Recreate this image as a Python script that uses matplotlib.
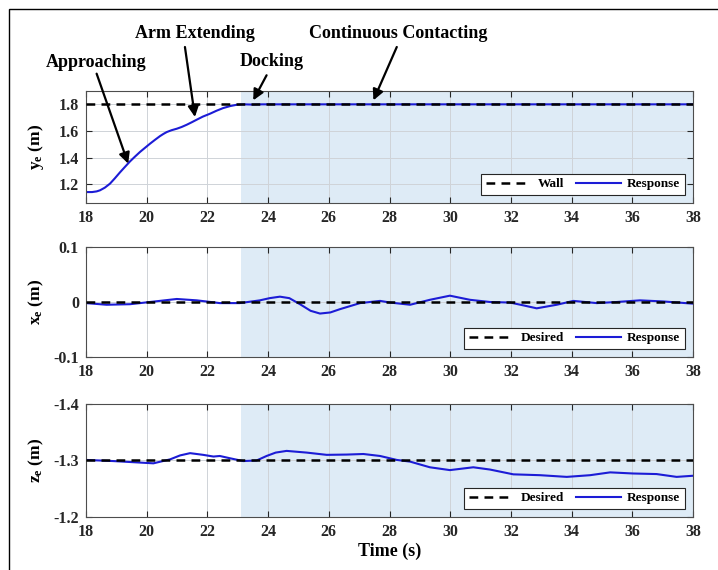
import matplotlib
matplotlib.use('Agg')
import matplotlib.pyplot as plt
from matplotlib.patches import Rectangle

plt.rcParams['font.family'] = ['Liberation Serif', 'DejaVu Serif']
plt.rcParams['font.weight'] = 'bold'
plt.rcParams['mathtext.fontset'] = 'custom'
plt.rcParams['mathtext.rm'] = 'Liberation Serif:bold'
plt.rcParams['mathtext.it'] = 'Liberation Serif:bold'
plt.rcParams['mathtext.bf'] = 'Liberation Serif:bold'

# y_e : approach, arm extension, docking, then contact with the wall
t_y = [18.0, 18.2, 18.35, 18.46, 18.62, 18.79, 18.95, 19.12, 19.28, 19.45, 19.6, 19.78,
       19.95, 20.11, 20.28, 20.44, 20.55, 20.66, 20.82, 20.99, 21.15, 21.32, 21.48, 21.65,
       21.85, 22.09, 22.3, 22.52, 22.75, 22.97, 23.2, 23.5, 23.8, 24.5, 26.0, 28.0,
       30.0, 32.0, 34.0, 36.0, 38.0]
ye = [1.142, 1.142, 1.147, 1.155, 1.175, 1.205, 1.245, 1.29, 1.33, 1.372, 1.405, 1.443,
      1.475, 1.505, 1.535, 1.562, 1.578, 1.592, 1.606, 1.617, 1.63, 1.647, 1.665, 1.685,
      1.708, 1.73, 1.752, 1.772, 1.787, 1.797, 1.800, 1.798, 1.800, 1.800, 1.800, 1.800,
      1.800, 1.800, 1.800, 1.800, 1.800]
y_wall = 1.8

# x_e response
t_x = [18.0, 18.68, 19.45, 20.11, 20.99, 21.65, 22.41, 23.07, 23.73, 24.05, 24.39,
       24.7, 25.05, 25.4, 25.71, 26.05, 26.37, 27.03, 27.69, 28.02, 28.68, 29.33, 29.99,
       30.65, 31.31, 31.97, 32.4, 32.85, 33.51, 34.06, 34.83, 35.49, 36.25, 37.02, 38.0]
xe = [-0.002, -0.005, -0.004, 0.0, 0.0055, 0.003, -0.002, -0.002, 0.003, 0.007, 0.0097,
      0.007, -0.004, -0.016, -0.021, -0.019, -0.013, -0.002, 0.002, -0.001, -0.005, 0.004, 0.0115,
      0.004, 0.0, -0.001, -0.006, -0.0115, -0.005, 0.002, -0.002, 0.0, 0.003, 0.001, -0.003]
x_des = 0.0

# z_e response
t_z = [18.0, 18.9, 19.56, 20.22, 20.77, 21.1, 21.43, 21.86, 22.2, 22.41, 22.74, 23.18,
       23.62, 23.95, 24.25, 24.61, 25.27, 25.93, 26.59, 27.14, 27.69, 28.24, 28.68, 29.33,
       29.99, 30.76, 31.31, 32.08, 32.96, 33.84, 34.61, 35.27, 36.03, 36.8, 37.46, 38.0]
ze = [-1.301, -1.299, -1.297, -1.295, -1.302, -1.309, -1.313, -1.31, -1.307, -1.308, -1.304, -1.299,
      -1.300, -1.308, -1.314, -1.317, -1.314, -1.31, -1.3105, -1.3115, -1.308, -1.301, -1.298, -1.288,
      -1.283, -1.288, -1.284, -1.2755, -1.274, -1.271, -1.274, -1.279, -1.277, -1.276, -1.271, -1.273]
z_des = -1.3

t_contact = 23.1
xticks = [18, 20, 22, 24, 26, 28, 30, 32, 34, 36, 38]

blue = '#1c1cd6'
shade = '#deebf6'

fig = plt.figure(figsize=(7.18, 5.70), dpi=100)
left, width = 86 / 718, 607 / 718
ax1 = fig.add_axes([left, 1 - 203 / 570, width, 112 / 570])
ax2 = fig.add_axes([left, 1 - 357 / 570, width, 110 / 570])
ax3 = fig.add_axes([left, 1 - 517 / 570, width, 113 / 570])

panels = [
    (ax1, t_y, ye, y_wall, 'Wall', r'$\mathrm{y_e}$ (m)', (1.06, 1.9), [1.2, 1.4, 1.6, 1.8], ['1.2', '1.4', '1.6', '1.8']),
    (ax2, t_x, xe, x_des, 'Desired', r'$\mathrm{x_e}$ (m)', (-0.1, 0.1), [-0.1, 0, 0.1], ['-0.1', '0', '0.1']),
    (ax3, t_z, ze, z_des, 'Desired', r'$\mathrm{z_e}$ (m)', (-1.2, -1.4), [-1.4, -1.3, -1.2], ['-1.4', '-1.3', '-1.2']),
]

for ax, t, v, ref, refname, ylab, ylim, yt, ytl in panels:
    ax.axvspan(t_contact, 38, color=shade, lw=0, zorder=0.1)
    ax.plot(t, v, color=blue, lw=1.5, label='Response', zorder=2)
    ax.plot([18, 38], [ref, ref], color='black', lw=1.8, dashes=(3.5, 2.5), label=refname, zorder=3)
    ax.set_xlim(18, 38)
    ax.set_ylim(*ylim)
    ax.set_xticks(xticks)
    ax.set_xticklabels([str(x) for x in xticks])
    ax.set_yticks(yt)
    ax.set_yticklabels(ytl)
    ax.set_axisbelow(True)
    ax.grid(True, color='#cfd3d8', lw=0.7)
    ax.tick_params(direction='in', top=True, right=True, length=4, width=0.8,
                   colors='#262626', labelsize=11.5, pad=5)
    for s in ax.spines.values():
        s.set_color('#4d4d4d')
        s.set_linewidth(0.8)
    ax.set_ylabel(ylab, fontsize=12.5, fontweight='bold')
    ax.yaxis.set_label_coords(-0.066, 0.5)
    h, l = ax.get_legend_handles_labels()
    leg = ax.legend(h[::-1], l[::-1], loc='lower right', ncol=2, fontsize=9.5,
                    frameon=True, fancybox=False, edgecolor='#262626', framealpha=1,
                    handlelength=3.4, handletextpad=0.5, columnspacing=0.9,
                    borderpad=0.35, borderaxespad=0.6)
    leg.get_frame().set_linewidth(0.8)

ax3.set_xlabel('Time (s)', fontsize=13, fontweight='bold', labelpad=2)

# phase labels with arrows
arrow = dict(arrowstyle='-|>', color='black', lw=1.6, mutation_scale=16, shrinkA=0, shrinkB=0)
notes = [
    ('Approaching', (18.33, 2.115), (18.35, 2.03), (19.39, 1.355)),
    ('Arm Extending', (21.59, 2.33), (21.26, 2.23), (21.59, 1.705)),
    ('Docking', (24.12, 2.118), (23.95, 2.018), (23.51, 1.83)),
    ('Continuous Contacting', (28.28, 2.33), (28.24, 2.23), (27.47, 1.83)),
]
for txt, pos, tail, head in notes:
    ax1.text(pos[0], pos[1], txt, ha='center', va='center', fontsize=13,
             fontweight='bold', clip_on=False)
    ax1.annotate('', xy=head, xytext=tail, arrowprops=arrow, annotation_clip=False)

fig.add_artist(Rectangle((9.3 / 718, -0.1), 1.5, 1.1 - 9.3 / 570, transform=fig.transFigure,
                         fill=False, edgecolor='black', lw=1.0))

fig.savefig('out.png', dpi=100)
